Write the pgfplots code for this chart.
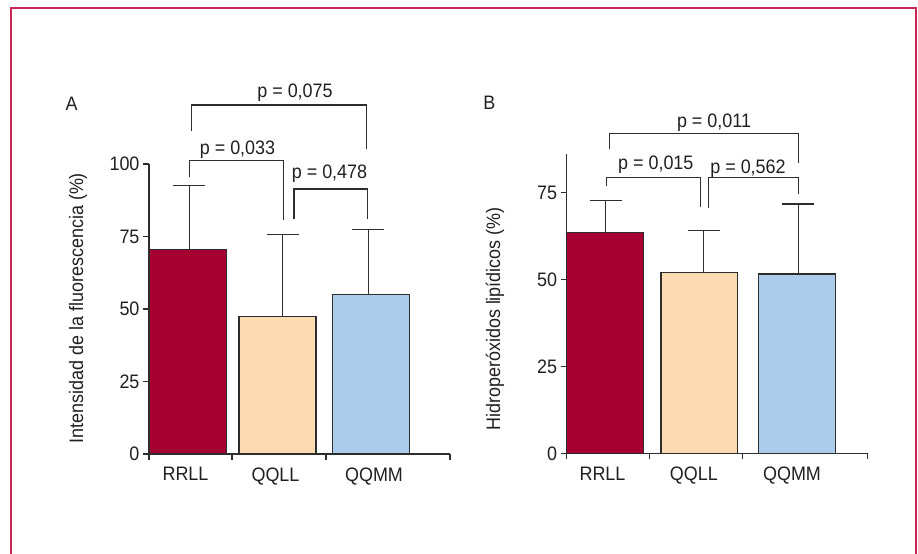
\documentclass[border=0pt]{standalone}
\usepackage{fontspec}
\setmainfont[FakeStretch=0.92]{Liberation Sans}
\usepackage{pgfplots}
\pgfplotsset{compat=1.18}
\definecolor{framecol}{RGB}{200,40,85}
\definecolor{c1}{RGB}{166,0,50}
\definecolor{c2}{RGB}{252,219,176}
\definecolor{c3}{RGB}{171,204,234}
\definecolor{ink}{RGB}{35,31,32}
\definecolor{edge}{RGB}{45,45,45}
\pgfplotsset{
  panel/.style={
    scale only axis, anchor=south west, clip=false,
    axis x line*=bottom, axis y line*=left,
    axis line style={draw=edge, line width=1.3pt},
    tick style={draw=edge, line width=1.3pt},
    major tick length=6pt, tick align=outside,
    xmin=0, ymin=0,
    xticklabels={},
    extra x tick style={major tick length=0pt},
    xticklabel style={yshift=-10pt},
    /pgf/number format/assume math mode=true,
    every tick label/.append style={text=ink},
    every axis y label/.style={rotate=90, anchor=center, text=ink},
  },
  barA/.style={ybar, bar shift=0pt, draw=edge, line width=1.3pt},
  br/.style={draw=edge, line width=1.3pt, mark=none, sharp plot, forget plot},
}
\begin{document}
\begin{tikzpicture}[font=\fontsize{19.5}{23}\selectfont]
\path[use as bounding box] (0pt,0pt) rectangle (918pt,554pt);
\draw[framecol, line width=1.5pt] (11pt,0pt) -- (11pt,546pt) -- (916pt,546pt) -- (916pt,0pt);

\begin{axis}[panel, at={(149pt,100pt)}, width=301pt, height=290pt,
  xmax=301, ymax=100, ytick={0,25,50,75,100},
  xtick={0,83,177,301},
  extra x ticks={36.5,126.5,225}, extra x tick labels={RRLL,QQLL,QQMM},
  ylabel={Intensidad de la fluorescencia (\%)},
  ylabel style={at={(axis description cs:-0.236,0.503)}}]
\addplot[barA, fill=c1, bar width=77.4] coordinates {(38.7,70.4)};
\addplot[barA, fill=c2, bar width=77] coordinates {(128.35,47.3)};
\addplot[barA, fill=c3, bar width=77] coordinates {(221.7,55.1)};
% error bars (mean to mean + SD) and caps
\addplot[br] coordinates {(40.3,70.4) (40.3,92.6)};
\addplot[br] coordinates {(24.3,92.6) (56.3,92.6)};
\addplot[br] coordinates {(133.7,47.3) (133.7,75.6)};
\addplot[br] coordinates {(117.7,75.6) (149.7,75.6)};
\addplot[br] coordinates {(219.3,55.1) (219.3,77.4)};
\addplot[br] coordinates {(203.3,77.4) (235.3,77.4)};
% significance brackets
\addplot[br] coordinates {(40.3,95.4) (40.3,101.1) (134.3,101.1) (134.3,80.7)};
\addplot[br] coordinates {(145,80.9) (145,91.4) (218.3,91.4) (218.3,80.9)};
\addplot[br] coordinates {(42.7,111.4) (42.7,120.3) (217.7,120.3) (217.7,105)};
\node[anchor=base, text=ink] at (axis cs:88.5,103.3) {p = 0,033};
\node[anchor=base, text=ink] at (axis cs:180.5,94.9) {p = 0,478};
\node[anchor=base, text=ink] at (axis cs:146,123.0) {p = 0,075};
\end{axis}

\begin{axis}[panel, at={(566.7pt,100.7pt)}, width=300.6pt, height=299.3pt,
  xmax=300.6, ymax=86.1, ytick={0,25,50,75},
  xtick={0,82.6,176,300.6},
  extra x ticks={35.8,127.1,225.3}, extra x tick labels={RRLL,QQLL,QQMM},
  ylabel={Hidroperóxidos lipídicos (\%)},
  ylabel style={at={(axis description cs:-0.2385,0.449)}}]
\addplot[barA, fill=c1, bar width=76.6] coordinates {(38.3,63.6)};
\addplot[barA, fill=c2, bar width=76.6] coordinates {(132.65,52.1)};
\addplot[barA, fill=c3, bar width=76.6] coordinates {(230.3,51.6)};
% error bars and caps
\addplot[br] coordinates {(39,63.6) (39,72.7)};
\addplot[br] coordinates {(23,72.7) (55,72.7)};
\addplot[br] coordinates {(137,52.1) (137,64.1)};
\addplot[br] coordinates {(121,64.1) (153,64.1)};
\addplot[br] coordinates {(231.6,51.6) (231.6,71.7)};
\addplot[br] coordinates {(215.6,71.7) (247.6,71.7)};
% significance brackets
\addplot[br] coordinates {(40,76.9) (40,79.4) (133.6,79.4) (133.6,70.8)};
\addplot[br] coordinates {(141.6,70.5) (141.6,79.3) (231.6,79.3) (231.6,74.6)};
\addplot[br] coordinates {(42.6,87.5) (42.6,91.9) (231.6,91.9) (231.6,83.5)};
\node[anchor=base, text=ink] at (axis cs:89.1,81.5) {p = 0,015};
\node[anchor=base, text=ink] at (axis cs:181.3,80.5) {p = 0,562};
\node[anchor=base, text=ink] at (axis cs:147.3,93.7) {p = 0,011};
\end{axis}

\node[text=ink] at (71.7pt,450.7pt) {A};
\node[text=ink] at (489.3pt,451.3pt) {B};
\end{tikzpicture}
\end{document}
